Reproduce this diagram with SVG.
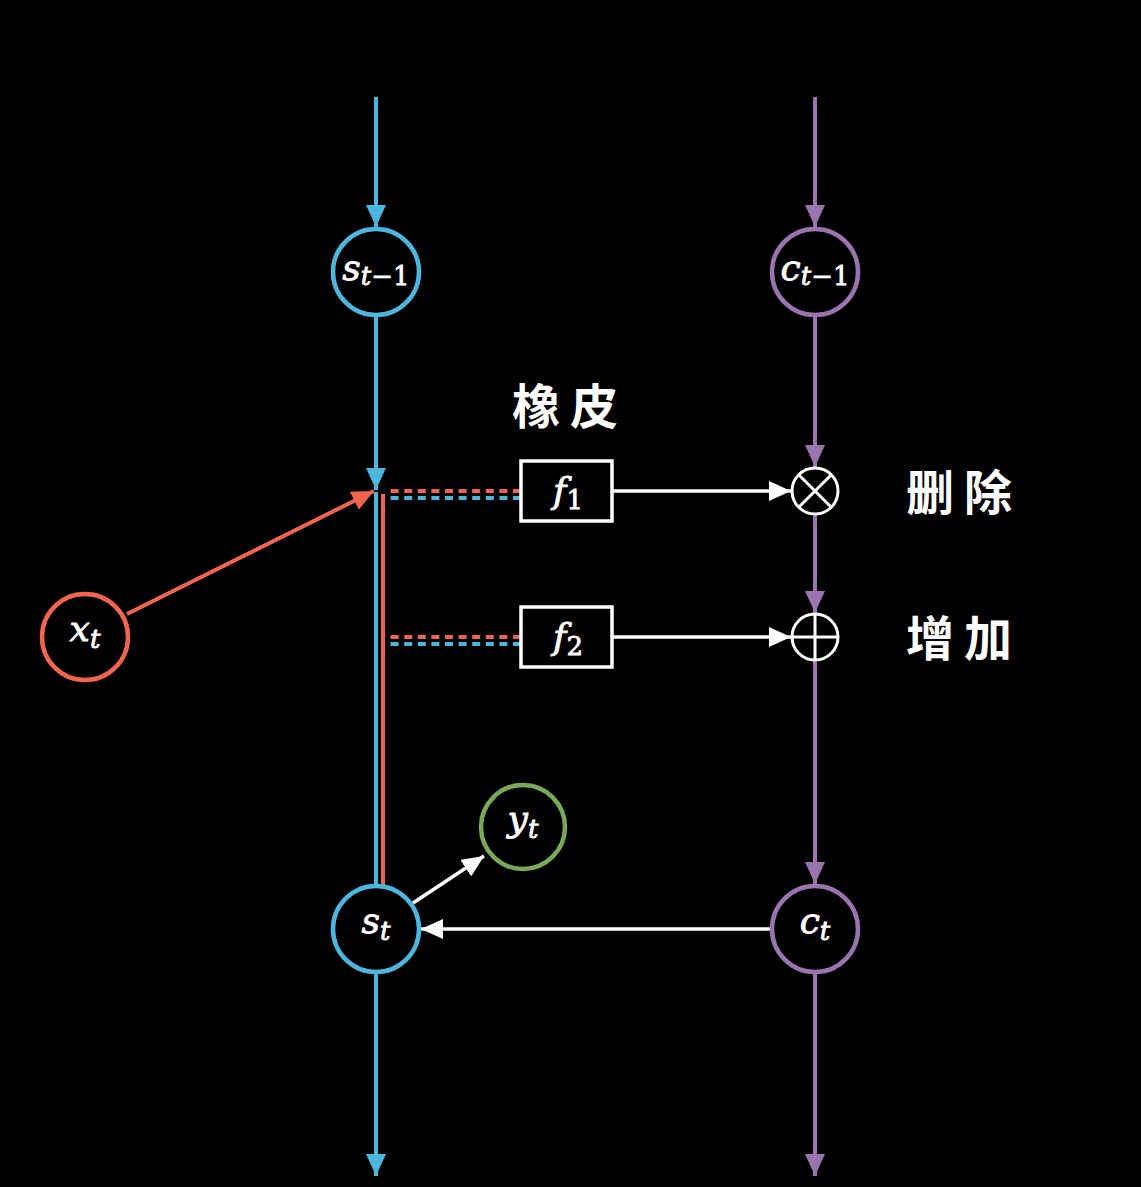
<svg xmlns="http://www.w3.org/2000/svg" width="1141" height="1187" viewBox="0 0 1141 1187">
<defs>
<style>
.bl{stroke:#4db6dc;stroke-width:4;fill:none}
.pu{stroke:#9a74ae;stroke-width:4;fill:none}
.rd{stroke:#ef6550;stroke-width:4;fill:none}
.wh{stroke:#ffffff;stroke-width:3.5;fill:none}
.node{fill:#000;stroke-width:4.5}
.m{font-family:"DejaVu Serif","Liberation Serif",serif;font-style:italic;fill:#fff;stroke:#fff;stroke-width:0.8;font-size:36px;text-anchor:middle}
.sub{font-size:26px}
.num{font-style:normal}
.cjk{font-family:"Noto Sans CJK SC",sans-serif;font-weight:bold;fill:#fff;font-size:48px;letter-spacing:10px}
</style>
<marker id="ab" markerWidth="24" markerHeight="20" refX="22" refY="10" orient="auto" markerUnits="userSpaceOnUse"><path d="M0,0 L22,10 L0,20 Z" fill="#4db6dc"/></marker>
<marker id="ap" markerWidth="24" markerHeight="20" refX="22" refY="10" orient="auto" markerUnits="userSpaceOnUse"><path d="M0,0 L22,10 L0,20 Z" fill="#9a74ae"/></marker>
<marker id="ar" markerWidth="24" markerHeight="20" refX="22" refY="10" orient="auto" markerUnits="userSpaceOnUse"><path d="M0,0 L22,10 L0,20 Z" fill="#ef6550"/></marker>
<marker id="aw" markerWidth="24" markerHeight="20" refX="22" refY="10" orient="auto" markerUnits="userSpaceOnUse"><path d="M0,0 L22,10 L0,20 Z" fill="#ffffff"/></marker>
</defs>
<rect width="1141" height="1187" fill="#000"/>
<g id="connectors">
<line class="bl" x1="376" y1="97" x2="376" y2="227" marker-end="url(#ab)"/>
<line class="pu" x1="815" y1="97" x2="815" y2="227" marker-end="url(#ap)"/>
<line class="bl" x1="376" y1="316" x2="376" y2="490" marker-end="url(#ab)"/>
<line class="bl" x1="376" y1="492" x2="376" y2="886"/>
<line class="rd" x1="383" y1="494" x2="383" y2="886"/>
<line class="rd" x1="127" y1="614" x2="374" y2="491" marker-end="url(#ar)"/>
<line class="rd" x1="521" y1="491" x2="385" y2="491" stroke-dasharray="8,5.6"/>
<line class="bl" x1="521" y1="498" x2="385" y2="498" stroke-dasharray="8,5.6"/>
<line class="rd" x1="521" y1="637" x2="386" y2="637" stroke-dasharray="8,5.6"/>
<line class="bl" x1="521" y1="644" x2="386" y2="644" stroke-dasharray="8,5.6"/>
<line class="wh" x1="612" y1="491" x2="791" y2="491" marker-end="url(#aw)"/>
<line class="wh" x1="612" y1="637" x2="791" y2="637" marker-end="url(#aw)"/>
<line class="pu" x1="815" y1="316" x2="815" y2="467" marker-end="url(#ap)"/>
<line class="pu" x1="815" y1="515" x2="815" y2="613" marker-end="url(#ap)"/>
<line class="pu" x1="815" y1="661" x2="815" y2="884" marker-end="url(#ap)"/>
<line class="wh" x1="771" y1="929" x2="421" y2="929" marker-end="url(#aw)"/>
<line class="wh" x1="413" y1="903" x2="484" y2="856" marker-end="url(#aw)"/>
<line class="bl" x1="376" y1="973" x2="376" y2="1176" marker-end="url(#ab)"/>
<line class="pu" x1="815" y1="973" x2="815" y2="1176" marker-end="url(#ap)"/>
</g>
<g id="s_prev"><circle class="node" cx="376" cy="272" r="43" stroke="#4db6dc"/><text class="m" x="376" y="280">s<tspan class="sub" dy="5">t</tspan><tspan class="sub num">−1</tspan></text></g>
<g id="c_prev"><circle class="node" cx="815" cy="272" r="43" stroke="#9a74ae"/><text class="m" x="815" y="280">c<tspan class="sub" dy="5">t</tspan><tspan class="sub num">−1</tspan></text></g>
<g id="x_t"><circle class="node" cx="85" cy="637" r="43" stroke="#ef6550"/><text class="m" x="85" y="641">x<tspan class="sub" dy="7">t</tspan></text></g>
<g id="f1"><rect x="521" y="461" width="91" height="60" fill="#000" stroke="#fff" stroke-width="3.5"/><text class="m" x="568" y="503">f<tspan class="sub num" dy="6">1</tspan></text></g>
<g id="f2"><rect x="521" y="607" width="91" height="60" fill="#000" stroke="#fff" stroke-width="3.5"/><text class="m" x="568" y="649">f<tspan class="sub num" dy="6">2</tspan></text></g>
<g id="mul"><circle cx="815" cy="491" r="23" fill="#000" stroke="#fff" stroke-width="3"/><path d="M798.7,474.7 L831.3,507.3 M831.3,474.7 L798.7,507.3" stroke="#fff" stroke-width="3"/></g>
<g id="add"><circle cx="815" cy="637" r="23" fill="#000" stroke="#fff" stroke-width="3"/><path d="M792,637 H838 M815,614 V660" stroke="#fff" stroke-width="3"/></g>
<g id="y_t"><circle class="node" cx="523" cy="827" r="42" stroke="#78a95a"/><text class="m" x="523" y="831">y<tspan class="sub" dy="7">t</tspan></text></g>
<g id="s_t"><circle class="node" cx="376" cy="929" r="43" stroke="#4db6dc"/><text class="m" x="376" y="933">s<tspan class="sub" dy="7">t</tspan></text></g>
<g id="c_t"><circle class="node" cx="815" cy="929" r="43" stroke="#9a74ae"/><text class="m" x="815" y="933">c<tspan class="sub" dy="7">t</tspan></text></g>
<g id="labels">
<text class="cjk" x="512" y="424">橡皮</text>
<text class="cjk" x="906" y="510">删除</text>
<text class="cjk" x="906" y="656">增加</text>
</g>
</svg>
